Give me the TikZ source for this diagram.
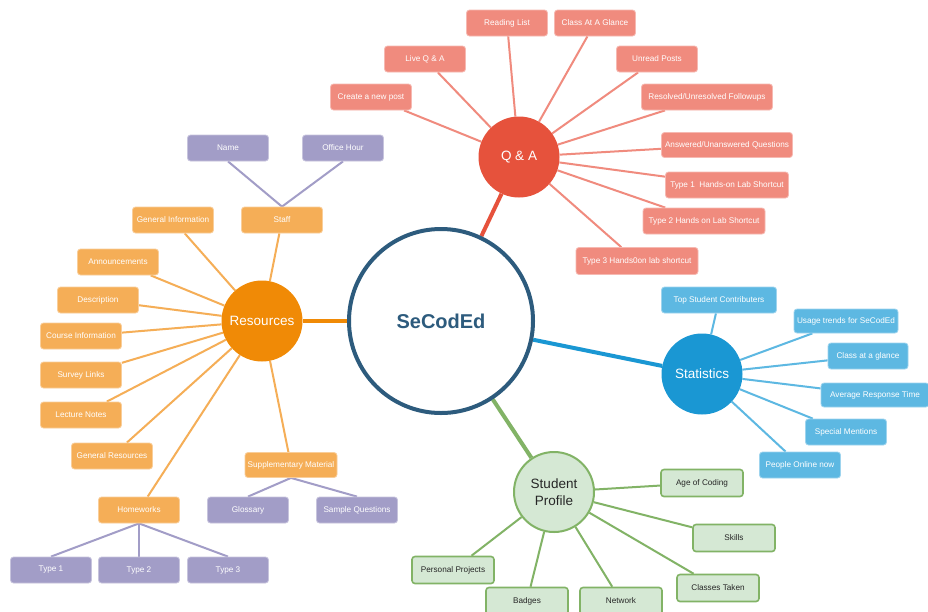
\documentclass[tikz,border=0pt]{standalone}
\usepackage{fontspec}
\setmainfont{Liberation Sans}
\usetikzlibrary{backgrounds}
\definecolor{core}{HTML}{2D5B7D}
\definecolor{qac}{HTML}{E6523C}
\definecolor{qab}{HTML}{F08B7E}
\definecolor{resc}{HTML}{F08A06}
\definecolor{resb}{HTML}{F5AE57}
\definecolor{purb}{HTML}{A29DC7}
\definecolor{statc}{HTML}{1A97D3}
\definecolor{statb}{HTML}{5DB8E2}
\definecolor{spf}{HTML}{D5E8D4}
\definecolor{spd}{HTML}{82B366}
\begin{document}
\begin{tikzpicture}[x=1pt,y=-1pt,
  box/.style={rectangle, rounded corners=3pt, inner sep=0pt, minimum height=26pt, minimum width=81pt, font=\fontsize{8.2}{9}\selectfont, text=white, line width=0.8pt},
  qabox/.style={box, fill=qab, draw=qab!60!white},
  resbox/.style={box, fill=resb, draw=resb!60!white},
  purbox/.style={box, fill=purb, draw=purb!60!white},
  statbox/.style={box, fill=statb, draw=statb!60!white},
  spbox/.style={box, fill=spf, draw=spd, line width=1.6pt, text=black!85, minimum height=27pt},
  hub/.style={circle, inner sep=0pt, minimum size=81pt, text=white, font=\fontsize{13.5}{16.5}\selectfont, align=center},
  qaline/.style={draw=qab, line width=2pt},
  resline/.style={draw=resb, line width=2pt},
  purline/.style={draw=purb, line width=2pt},
  statline/.style={draw=statb, line width=2pt},
  spline/.style={draw=spd, line width=2pt},
]
\useasboundingbox (0,0) rectangle (928,611);

% hubs
\node[circle, draw=core, line width=4pt, fill=white, minimum size=184pt, inner sep=0pt,
      text=core, font=\fontsize{20}{24}\selectfont\bfseries] (c) at (441,321) {SeCodEd};
\node[hub, fill=qac] (qa) at (519,157) {Q \& A};
\node[hub, fill=resc] (res) at (262,321) {Resources};
\node[hub, fill=statc] (stat) at (702,374) {Statistics};
\node[hub, fill=spf, draw=spd, line width=2pt, minimum size=80pt, text=black!85] (sp) at (554,492) {Student\\Profile};

% Q & A children
\node[qabox] (rl) at (507,23) {Reading List};
\node[qabox] (cg) at (595,23) {Class At A Glance};
\node[qabox] (lq) at (425,59) {Live Q \& A};
\node[qabox] (up) at (657,59) {Unread Posts};
\node[qabox] (cp) at (371,97) {Create a new post};
\node[qabox, minimum width=131pt] (rf) at (707,97) {Resolved/Unresolved Followups};
\node[qabox, minimum width=131pt, minimum height=25pt] (aq) at (727,145) {Answered/Unanswered Questions};
\node[qabox, minimum width=123pt] (t1) at (727,185) {Type 1\ \ Hands-on Lab Shortcut};
\node[qabox, minimum width=122pt] (t2) at (704,221) {Type 2 Hands on Lab Shortcut};
\node[qabox, minimum width=122pt, minimum height=27pt] (t3) at (637,261) {Type 3 Hands0on lab shortcut};

% Resources children
\node[resbox] (staff) at (282,220) {Staff};
\node[resbox] (gi) at (173,220) {General Information};
\node[resbox] (ann) at (118,262) {Announcements};
\node[resbox] (desc) at (98,300) {Description};
\node[resbox] (ci) at (81,336) {Course Information};
\node[resbox] (sl) at (81,375) {Survey Links};
\node[resbox] (ln) at (81,415) {Lecture Notes};
\node[resbox] (gr) at (112,456) {General Resources};
\node[resbox] (hw) at (139,510) {Homeworks};
\node[resbox, minimum width=92pt, minimum height=25pt] (sm) at (291,465) {Supplementary Material};

% purple grandchildren
\node[purbox] (name) at (228,148) {Name};
\node[purbox] (oh) at (343,148) {Office Hour};
\node[purbox] (glo) at (248,510) {Glossary};
\node[purbox] (sq) at (357,510) {Sample Questions};
\node[purbox] (ty1) at (51,570) {Type 1};
\node[purbox] (ty2) at (139,570) {Type 2};
\node[purbox] (ty3) at (228,570) {Type 3};

% Statistics children
\node[statbox, minimum width=115pt] (tsc) at (719,300) {Top Student Contributers};
\node[statbox, minimum width=104pt, minimum height=24pt] (ut) at (846,321) {Usage trends for SeCodEd};
\node[statbox, minimum width=80pt] (cag) at (868,356) {Class at a glance};
\node[statbox, minimum width=108pt, minimum height=24pt] (art) at (875,395) {Average Response Time};
\node[statbox] (spm) at (846,432) {Special Mentions};
\node[statbox] (pon) at (800,465) {People Online now};

% Student Profile children
\node[spbox, minimum width=82pt] (aoc) at (702,483) {Age of Coding};
\node[spbox, minimum width=82pt] (sk) at (734,538) {Skills};
\node[spbox, minimum width=82pt] (ct) at (718,588) {Classes Taken};
\node[spbox, minimum width=82pt] (pp) at (453,570) {Personal Projects};
\node[spbox, minimum width=82pt] (bd) at (527,601) {Badges};
\node[spbox, minimum width=82pt] (nw) at (621,601) {Network};

\begin{pgfonlayer}{background}
  \fill[white] (0,0) rectangle (928,611);
  % main branches
  \draw[qac, line width=4pt] (c) -- (qa);
  \draw[resc, line width=4pt] (c) -- (res);
  \draw[statc, line width=4pt] (c) -- (stat);
  \draw[spd, line width=4pt] (c) -- (sp);
  % Q & A
  \foreach \n in {rl,cg,lq,up,cp,rf,aq,t1,t2,t3} \draw[qaline] (qa) -- (\n);
  % Resources
  \foreach \n in {staff,gi,ann,desc,ci,sl,ln,gr,hw,sm} \draw[resline] (res) -- (\n);
  % purple
  \draw[purline] (staff.north) -- (name.south);
  \draw[purline] (staff.north) -- (oh.south);
  \draw[purline] (sm.south) -- (glo.north);
  \draw[purline] (sm.south) -- (sq.north);
  \draw[purline] (hw.south) -- (ty1.north);
  \draw[purline] (hw.south) -- (ty2.north);
  \draw[purline] (hw.south) -- (ty3.north);
  % Statistics
  \foreach \n in {tsc,ut,cag,art,spm,pon} \draw[statline] (stat) -- (\n);
  % Student Profile
  \foreach \n in {aoc,sk,ct,pp,bd,nw} \draw[spline] (sp) -- (\n);
\end{pgfonlayer}
\end{tikzpicture}
\end{document}
